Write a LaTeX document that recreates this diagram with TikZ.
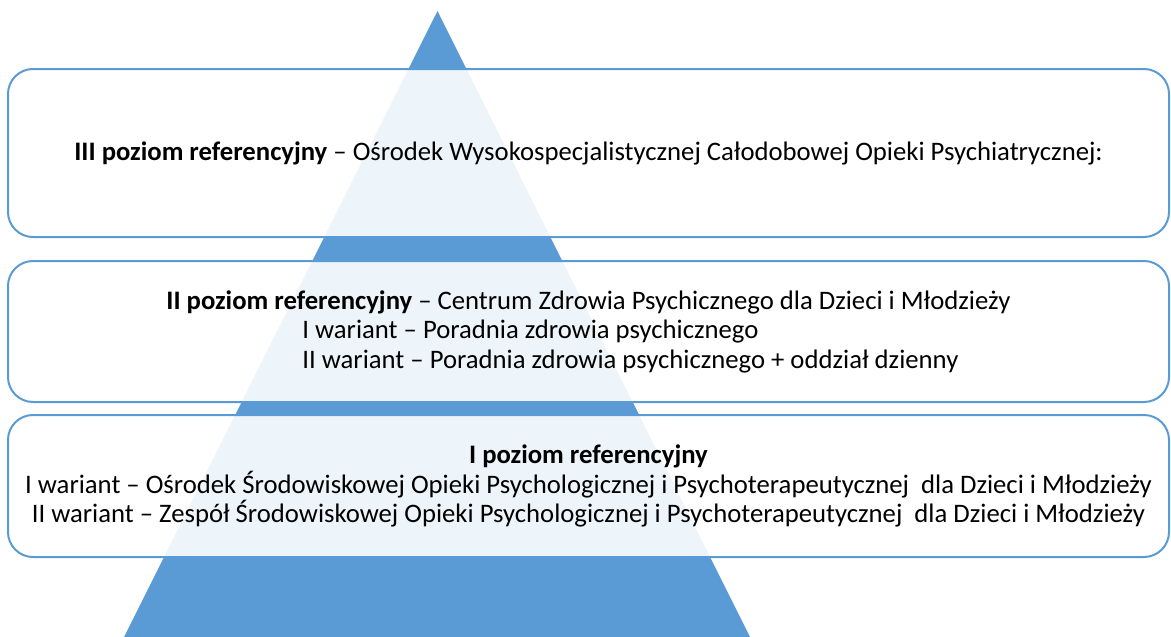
\documentclass[tikz,border=0pt]{standalone}
\usepackage{fontspec}
\setmainfont{Carlito}
\usepackage{tikz}
\usetikzlibrary{positioning, calc}
\definecolor{myblue}{RGB}{91,155,213}
\tikzset{
  levelbox/.style={rectangle, draw=myblue, fill=white, fill opacity=0.9, text opacity=1,
    minimum width=1161pt, rounded corners=25pt, line width=2pt, inner sep=4pt,
    font=\fontsize{26.7pt}{29.5pt}\selectfont},
  pyramid/.style={fill=myblue}
}
\begin{document}
\begin{tikzpicture}[x=1pt, y=-1pt]
  \useasboundingbox (0,0) rectangle (1171,637);

  % Pyramid
  \coordinate (apex) at (437.5,11);
  \coordinate (baseL) at (124,637);
  \coordinate (baseR) at (750,637);
  \fill[pyramid] (apex) -- (baseR) -- (baseL) -- cycle;

  % Level boxes
  \node[levelbox, minimum height=168pt, align=center] (lvlthree) at (588.5,153)
    {\textbf{III poziom referencyjny} -- Ośrodek Wysokospecjalistycznej Całodobowej Opieki Psychiatrycznej:};
  \node[levelbox, minimum height=141pt, align=left] (lvltwo) at (588.5,331.5)
    {\textbf{II poziom referencyjny} -- Centrum Zdrowia Psychicznego dla Dzieci i Młodzieży\\
     \hspace*{136pt}I wariant -- Poradnia zdrowia psychicznego\\
     \hspace*{136pt}II wariant -- Poradnia zdrowia psychicznego + oddział dzienny};
  \node[levelbox, minimum height=142pt, align=center] (lvlone) at (588.5,486)
    {\textbf{I poziom referencyjny}\\
     I wariant -- Ośrodek Środowiskowej Opieki Psychologicznej i Psychoterapeutycznej\ \ dla Dzieci i Młodzieży\\
     II wariant -- Zespół Środowiskowej Opieki Psychologicznej i Psychoterapeutycznej\ \ dla Dzieci i Młodzieży};
\end{tikzpicture}
\end{document}
